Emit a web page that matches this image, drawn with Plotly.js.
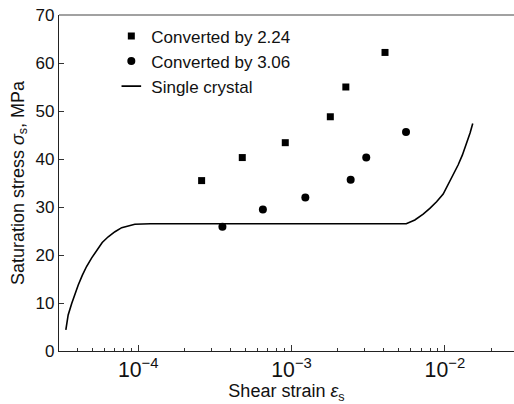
<!DOCTYPE html>
<html>
<head>
<meta charset="utf-8">
<script src="https://cdn.plot.ly/plotly-3.0.1.min.js"></script>
<style>html,body{margin:0;padding:0;background:#fff}#chart{width:514px;height:404px}</style>
</head>
<body>
<div id="chart"></div>
<script>
// Converted by 2.24 (squares)
var sq_strain = [2.59e-4, 4.77e-4, 9.1e-4, 1.79e-3, 2.26e-3, 4.07e-3];
var sq_stress = [35.5, 40.3, 43.4, 48.8, 55.0, 62.2];
// Converted by 3.06 (circles)
var ci_strain = [3.54e-4, 6.5e-4, 1.23e-3, 2.43e-3, 3.07e-3, 5.58e-3];
var ci_stress = [25.9, 29.5, 32.0, 35.7, 40.3, 45.6];
// Single crystal curve
var sc_strain = [3.37e-5, 3.49e-5, 3.68e-5, 3.86e-5, 4.06e-5, 4.32e-5, 4.6e-5, 4.97e-5, 5.35e-5, 5.82e-5,
                 6.37e-5, 7.05e-5, 7.8e-5, 8.6e-5, 9.5e-5, 1.2e-4, 5.6e-3, 6.37e-3, 7.22e-3, 7.98e-3,
                 8.83e-3, 9.75e-3, 1.05e-2, 1.13e-2, 1.22e-2, 1.30e-2, 1.39e-2, 1.46e-2, 1.52e-2];
var sc_stress = [4.4, 7.5, 9.9, 12.0, 13.75, 15.8, 17.6, 19.4, 21.0, 22.6,
                 23.8, 24.85, 25.7, 26.1, 26.4, 26.5, 26.5, 27.3, 28.5, 29.7,
                 31.1, 32.7, 34.6, 36.6, 38.75, 40.8, 43.3, 45.4, 47.4];

var names = ['Converted by 2.24', 'Converted by 3.06', 'Single crystal'];

var traces = [
  {x: sq_strain, y: sq_stress, name: names[0], type: 'scatter', mode: 'markers',
   marker: {symbol: 'square', size: 7, color: '#000'}},
  {x: ci_strain, y: ci_stress, name: names[1], type: 'scatter', mode: 'markers',
   marker: {symbol: 'circle', size: 8, color: '#000'}},
  {x: sc_strain, y: sc_stress, name: names[2], type: 'scatter', mode: 'lines',
   line: {color: '#000', width: 1.6}, showlegend: false, legendgroup: 'sc'},
  // legend entry for the curve: a short dash like the reference
  {x: [null], y: [null], name: names[2], type: 'scatter', mode: 'markers', legendgroup: 'sc',
   marker: {symbol: 'line-ew', size: 14, color: '#000', line: {color: '#000', width: 1.6}}}
];

var layout = {
  width: 514, height: 404,
  margin: {l: 59, r: 0, t: 15, b: 53},
  paper_bgcolor: '#fff', plot_bgcolor: '#fff',
  font: {family: 'Liberation Sans, Arial, sans-serif', color: '#111'},
  showlegend: true,
  legend: {x: 0.115, y: 0.99, xanchor: 'left', yanchor: 'top', traceorder: 'normal',
           bgcolor: 'rgba(0,0,0,0)', borderwidth: 0, font: {size: 17, color: '#111'}},
  shapes: [{type: 'line', xref: 'paper', yref: 'paper', x0: 0, x1: 1, y0: 1, y1: 1,
            line: {color: '#444', width: 1.2}}],
  xaxis: {
    type: 'log', range: [-4.517, -1.549],
    tickmode: 'linear', tick0: 0, dtick: 1, exponentformat: 'power',
    ticks: 'inside', ticklen: 6, tickwidth: 1, tickcolor: '#333',
    minor: {ticks: 'inside', ticklen: 3, tickcolor: '#333', dtick: 'D1', showgrid: false},
    showline: true, linecolor: '#222', linewidth: 1.3, mirror: false,
    showgrid: false, zeroline: false,
    tickfont: {size: 17, color: '#111'},
    title: {text: 'Shear strain <i>ε</i><sub>s</sub>', font: {size: 18, color: '#111'}, standoff: 8}
  },
  yaxis: {
    range: [0, 70], tickmode: 'linear', tick0: 0, dtick: 10,
    ticks: 'inside', ticklen: 5, tickwidth: 1, tickcolor: '#333',
    showline: true, linecolor: '#222', linewidth: 1.3,
    showgrid: false, zeroline: false,
    tickfont: {size: 17, color: '#111'},
    title: {text: 'Saturation stress <i>σ</i><sub>s</sub>, MPa', font: {size: 18, color: '#111'}, standoff: 6}
  }
};

Plotly.newPlot('chart', traces, layout, {displayModeBar: false});
</script>
</body>
</html>
